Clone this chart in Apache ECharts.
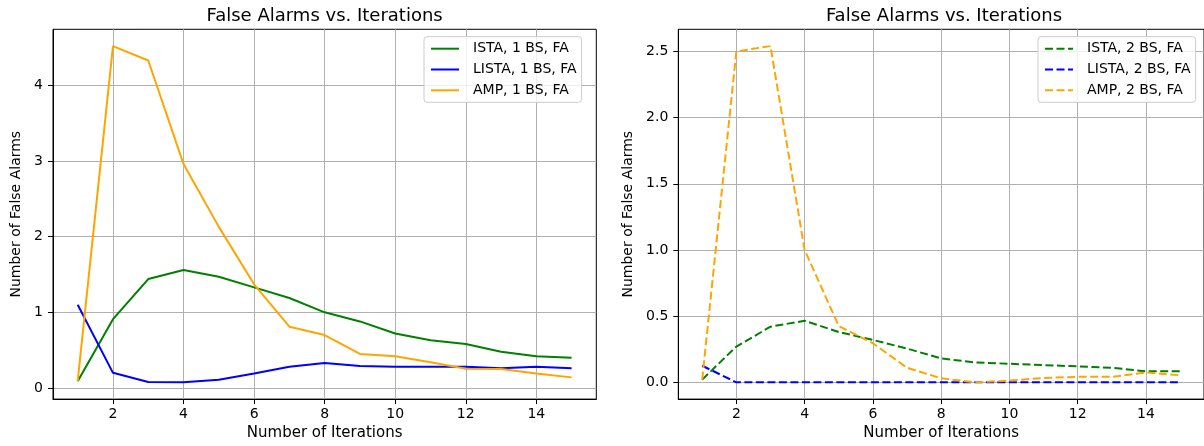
<!DOCTYPE html>
<html>
<head>
<meta charset="utf-8">
<script src="https://cdn.jsdelivr.net/npm/echarts@6/dist/echarts.min.js"></script>
<style>
  html, body { margin: 0; padding: 0; background: #ffffff; }
  #chart { width: 1204px; height: 446px; }
</style>
</head>
<body>
<div id="chart"></div>
<script>
// Iteration counts shared by both panels
const iterations = [1, 2, 3, 4, 5, 6, 7, 8, 9, 10, 11, 12, 13, 14, 15];

// Panel 1: one base station
const ista1  = [0.09, 0.91, 1.44, 1.56, 1.47, 1.33, 1.19, 1.00, 0.88, 0.72, 0.63, 0.58, 0.48, 0.42, 0.40];
const lista1 = [1.10, 0.20, 0.08, 0.075, 0.11, 0.19, 0.28, 0.33, 0.29, 0.28, 0.28, 0.28, 0.26, 0.28, 0.26];
const amp1   = [0.09, 4.52, 4.33, 2.96, 2.13, 1.37, 0.81, 0.70, 0.45, 0.42, 0.34, 0.255, 0.25, 0.19, 0.14];

// Panel 2: two base stations
const ista2  = [0.02, 0.27, 0.42, 0.465, 0.38, 0.32, 0.255, 0.18, 0.15, 0.14, 0.13, 0.12, 0.11, 0.083, 0.083];
const lista2 = [0.125, 0, 0, 0, 0, 0, 0, 0, 0, 0, 0, 0, 0, 0, 0];
const amp2   = [0.02, 2.50, 2.54, 1.00, 0.425, 0.295, 0.11, 0.03, 0.0, 0.013, 0.033, 0.041, 0.041, 0.074, 0.053];

// Series names
const names1 = ['ISTA, 1 BS, FA', 'LISTA, 1 BS, FA', 'AMP, 1 BS, FA'];
const names2 = ['ISTA, 2 BS, FA', 'LISTA, 2 BS, FA', 'AMP, 2 BS, FA'];

// Tick labels
const xTicks = [2, 4, 6, 8, 10, 12, 14];
const yTicks1 = [0, 1, 2, 3, 4];
const yTicks2 = [0.0, 0.5, 1.0, 1.5, 2.0, 2.5];

const titleText = 'False Alarms vs. Iterations';
const xName = 'Number of Iterations';
const yName = 'Number of False Alarms';

const FONT = 'DejaVu Sans';
const COLORS = ['#008000', '#0000ff', '#ffa500'];
const DASH = [8, 3.5];

// 5% padding around the data range on each side
function paddedRange(arrays) {
  const all = [].concat(...arrays);
  const lo = Math.min(...all), hi = Math.max(...all);
  const m = 0.05 * (hi - lo);
  return [lo - m, hi + m];
}

const xRange = paddedRange([iterations]);
const yRange1 = paddedRange([ista1, lista1, amp1]);
const yRange2 = paddedRange([ista2, lista2, amp2]);

const grids = [
  { left: 53, top: 29.3, width: 543.3, height: 370 },
  { left: 678.3, top: 29.3, width: 531.4, height: 370 }
];

const textBase = { fontFamily: FONT, fontSize: 14, color: '#000' };

function makeXAxis(gi) {
  return {
    gridIndex: gi, type: 'value', min: xRange[0], max: xRange[1],
    axisLine: { show: true, onZero: false, lineStyle: { color: '#000', width: 1 } },
    axisTick: { show: true, length: 5, lineStyle: { color: '#000', width: 1 }, customValues: xTicks },
    axisLabel: Object.assign({ customValues: xTicks, margin: 8 }, textBase),
    splitLine: { show: true, lineStyle: { color: '#b0b0b0', width: 1 } },
    name: xName, nameLocation: 'middle', nameGap: 24,
    nameTextStyle: Object.assign({}, textBase, { fontSize: 15 })
  };
}

function makeYAxis(gi, range, ticks, digits, gap) {
  return {
    gridIndex: gi, type: 'value', min: range[0], max: range[1],
    axisLine: { show: true, onZero: false, lineStyle: { color: '#000', width: 1 } },
    axisTick: { show: true, length: 5, lineStyle: { color: '#000', width: 1 }, customValues: ticks },
    axisLabel: Object.assign({
      customValues: ticks, margin: 10,
      formatter: v => Number(v).toFixed(digits)
    }, textBase),
    splitLine: { show: true, lineStyle: { color: '#b0b0b0', width: 1 } },
    name: yName, nameLocation: 'middle', nameGap: gap, nameRotate: 90,
    nameTextStyle: Object.assign({}, textBase)
  };
}

function makeSeries(name, values, gi, color, dashed) {
  return {
    type: 'line', name: name,
    xAxisIndex: gi, yAxisIndex: gi,
    data: iterations.map((x, i) => [x, values[i]]),
    symbol: 'none',
    lineStyle: { color: color, width: 2, type: dashed ? DASH : 'solid' },
    itemStyle: { color: color },
    emphasis: { disabled: true }
  };
}

// Legend keys are plain line samples (no marker)
function makeLegend(names, left) {
  return {
    orient: 'vertical', left: left, top: 36.7,
    data: names,
    itemWidth: 28, itemHeight: 14, itemGap: 6.8,
    padding: [5, 5, 5, 6],
    backgroundColor: 'rgba(255,255,255,0.8)',
    borderColor: '#cccccc', borderWidth: 1, borderRadius: 3,
    itemStyle: { opacity: 0 },
    textStyle: Object.assign({ padding: [0, 0, 0, 9], lineHeight: 14 }, textBase),
    selectedMode: false
  };
}

const titleStyle = { fontFamily: FONT, fontSize: 18, fontWeight: 'normal', color: '#000' };

const option = {
  animation: false,
  backgroundColor: '#ffffff',
  title: [
    { text: titleText, left: 324.6, top: 7, padding: 0, textAlign: 'center', textStyle: titleStyle },
    { text: titleText, left: 944, top: 7, padding: 0, textAlign: 'center', textStyle: titleStyle }
  ],
  legend: [makeLegend(names1, 424), makeLegend(names2, 1038)],
  grid: grids.map(g => Object.assign({ show: true, borderColor: '#000', borderWidth: 1, backgroundColor: 'transparent' }, g)),
  xAxis: [makeXAxis(0), makeXAxis(1)],
  yAxis: [makeYAxis(0, yRange1, yTicks1, 0, 30), makeYAxis(1, yRange2, yTicks2, 1, 43)],
  series: [
    makeSeries(names1[0], ista1, 0, COLORS[0], false),
    makeSeries(names1[1], lista1, 0, COLORS[1], false),
    makeSeries(names1[2], amp1, 0, COLORS[2], false),
    makeSeries(names2[0], ista2, 1, COLORS[0], true),
    makeSeries(names2[1], lista2, 1, COLORS[1], true),
    makeSeries(names2[2], amp2, 1, COLORS[2], true)
  ]
};

const chart = echarts.init(document.getElementById('chart'), null, { renderer: 'canvas' });
chart.setOption(option);
</script>
</body>
</html>
